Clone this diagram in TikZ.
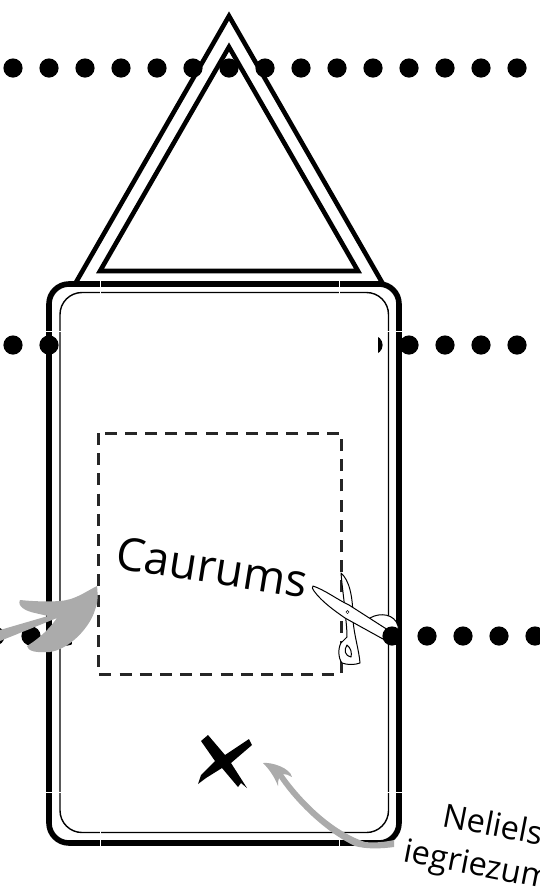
\documentclass[tikz,border=0pt]{standalone}
\usepackage{fontspec}
\setmainfont{Open Sans}
\usepackage{tikz}
\usetikzlibrary{calc}
\tikzset{
  dotmark/.style  = {black},
  fold/.style     = {draw=black, line width=4.6pt, line join=miter},
  outerrim/.style = {draw=black, line width=5.6pt, rounded corners=20pt},
  innerrim/.style = {draw=black, line width=1.4pt, rounded corners=22pt},
  cutline/.style  = {draw=black!85, line width=3pt, dash pattern=on 12pt off 8.2pt},
  seam/.style     = {white, line width=0.5pt},
  brush/.style    = {fill=black!33, draw=none},
  shear/.style    = {fill=white, draw=black, line width=1pt, line join=round},
  lbl/.style      = {inner sep=0pt, align=center},
}
\newcommand{\dotrow}[2]{%
  \foreach \xd in {#2} {
    \fill[dotmark] (\xd,#1) circle [radius=9.6];
  }
}
\begin{document}
\begin{tikzpicture}[x=1pt,y=-1pt]
  \useasboundingbox (0,0) rectangle (539,887);
  % dot rows
  \dotrow{68}{13,49,85,121,157,193,229,265,301,337,373,409,445,481,517}
  \dotrow{345}{13,49,85,373,409,445,481,517}
  \dotrow{636}{-5,31,67}
  \fill[white] (72,300) rectangle (378,700);
  % envelope
  \draw[fold] (75,284) -- (229,16) -- (383,284);
  \draw[fold] (100,271) -- (229,47) -- (358,271) -- cycle;
  \draw[outerrim] (49,284) rectangle (399,843);
  \draw[innerrim] (60,292.5) rectangle (388.5,832.5);
  \foreach \xs in {100,339} {
    \draw[seam] (\xs,280) -- (\xs,294);
    \draw[seam] (\xs,830) -- (\xs,846);
  }
  \foreach \ys in {331,792} {
    \draw[seam] (46,\ys) -- (62,\ys);
    \draw[seam] (387,\ys) -- (402,\ys);
  }
  \draw[cutline] (98,433) rectangle (341,674);
  \node[lbl, rotate=-9, font=\fontsize{45.5}{54}\selectfont] (cutlabel) at (212,567) {Caurums};
  % scissors
  \draw[shear] (341,573) .. controls (349,580) and (353,595) .. (353,620)
    .. controls (354,635) and (359,650) .. (360,663)
    .. controls (355,665) and (347,665) .. (342,663)
    .. controls (338,658) and (338,648) .. (341,643)
    .. controls (343,640) and (346,639) .. (347,637)
    .. controls (347,625) and (345,615) .. (345,610)
    .. controls (344,600) and (342,585) .. (341,573) -- cycle;
  \draw[shear] (347,645) .. controls (344,650) and (344,655) .. (351,657)
    .. controls (352,653) and (351,648) .. (347,645) -- cycle;
  \draw[shear] (370,618) .. controls (380,612) and (395,614) .. (398,626)
    .. controls (399,632) and (396,640) .. (390,641)
    .. controls (380,640) and (375,628) .. (370,618) -- cycle;
  \draw[shear] (313,586) .. controls (325,590) and (338,600) .. (349,605)
    -- (388,630) -- (383,639) -- (345,618)
    .. controls (335,611) and (322,602) .. (314,591)
    .. controls (312,589) and (312,587) .. (313,586) -- cycle;
  \draw[black, line width=0.5pt] (347.5,612) circle [radius=1.6];
  \fill[black] (392,636) circle [radius=9.6];
  \dotrow{636}{427,463,499,535}
  % hand drawn marks
  \fill[brush] (97,586) .. controls (85,592) and (75,600) .. (60,601)
    .. controls (45,602) and (30,601) .. (20,600)
    .. controls (17,606) and (25,611) .. (35,613)
    -- (48,616) -- (0,630) -- (0,641) -- (57,618)
    .. controls (50,628) and (40,638) .. (27,646)
    .. controls (28,651) and (35,653) .. (50,652)
    .. controls (70,649) and (90,627) .. (95,610)
    .. controls (98,603) and (98,595) .. (97,586) -- cycle;
  \fill[brush] (263,763) .. controls (272,762) and (290,768) .. (292,777)
    .. controls (289,775) and (286,774) .. (283,774)
    .. controls (300,798) and (330,830) .. (365,842)
    .. controls (375,843) and (385,842) .. (394,840)
    -- (394,847) .. controls (380,849) and (365,849) .. (355,846)
    .. controls (325,832) and (295,802) .. (279,778)
    .. controls (278,780) and (278,783) .. (278,786)
    .. controls (275,778) and (270,770) .. (263,763) -- cycle;
  \fill[black] (201,741) -- (208,735) -- (225,755) -- (249,739) -- (252,745)
    -- (231,763) -- (247,788) -- (241,783) -- (238,787) -- (222,768)
    -- (206,778) -- (198,784) -- (201,775) -- (215,761) -- cycle;
  % note
  \node[lbl, rotate=-11, font=\fontsize{32.5}{42}\selectfont] (notelabel) at (489,848) {Neliels\\iegriezums};
\end{tikzpicture}
\end{document}
